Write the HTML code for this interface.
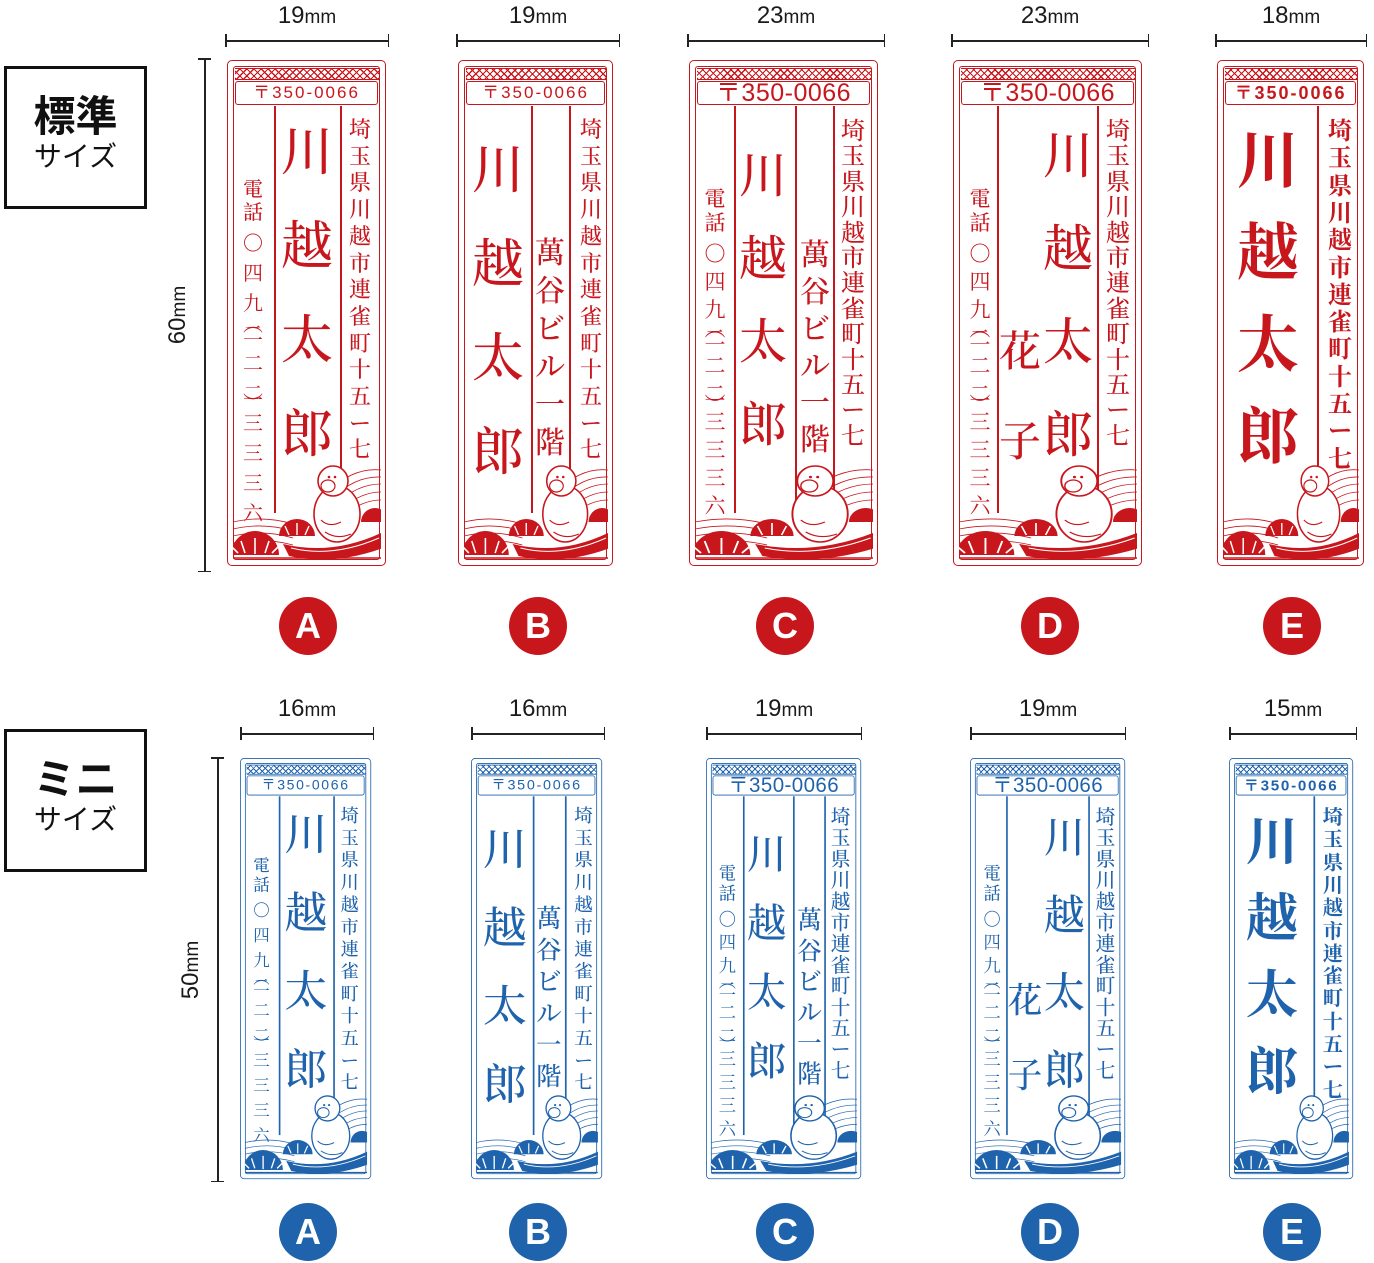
<!DOCTYPE html>
<html><head><meta charset="utf-8">
<style>
body{margin:0;background:#fff;width:1374px;height:1263px;position:relative;overflow:hidden;font-family:"Liberation Sans","Noto Sans CJK JP",sans-serif}
.a{position:absolute}
.stamp{position:absolute;transform-origin:0 0}
.ch{position:absolute;text-align:center;font-family:"Noto Serif CJK SC","Noto Sans CJK JP",serif;white-space:nowrap}
.dim{position:absolute;color:#1a1a1a;font-size:24px;text-align:center;width:120px}
.dim small{font-size:19px}
.circ{position:absolute;width:58px;height:58px;border-radius:50%;color:#fff;font-weight:bold;font-size:36px;line-height:58px;text-align:center;font-family:"Liberation Sans",sans-serif}
.lbl{position:absolute;border:3px solid #111;box-sizing:border-box;text-align:center;color:#111}
</style></head><body>
<div id="root"></div>
<script>
const R='#c8161d',B='#1f63ad';
const root=document.getElementById('root');
function el(parent,cls,css,html){const d=document.createElement('div');if(cls)d.className=cls;d.style.cssText=css;if(html!==undefined)d.innerHTML=html;parent.appendChild(d);return d;}
function col(p,c,xc,top,f,step,text,w){[...text].forEach((t,i)=>{el(p,'ch',`left:${xc-f/2}px;top:${top+i*step}px;width:${f}px;height:${f}px;font-size:${f}px;line-height:${f}px;color:${c};font-weight:${w||500};`,t);});}
function phone(p,c,xc,top,f,topNum,step){
 col(p,c,xc,top,f,f+3,'電話');
 const s='〇四九二二二三三三六';
 [...s].forEach((t,i)=>el(p,'ch',`left:${xc-f/2}px;top:${topNum+i*step}px;width:${f}px;height:${f}px;font-size:${f}px;line-height:${f}px;color:${c}`,t));
 el(p,'ch',`left:${xc-f/2}px;top:${topNum+3*step-f*0.45}px;width:${f}px;font-size:${f}px;line-height:${f}px;color:${c}`,'︵');
 el(p,'ch',`left:${xc-f/2}px;top:${topNum+5*step+f*0.5}px;width:${f}px;font-size:${f}px;line-height:${f}px;color:${c}`,'︶');
}
function deco(c){
 return `<svg width="100%" height="100%" viewBox="0 0 148 109" preserveAspectRatio="none" style="position:absolute;left:0;top:0">
 <g fill="none" stroke="${c}" stroke-width="0.8">
 <path d="M95,40 Q120,15 148,18"/><path d="M100,46 Q122,24 148,25"/><path d="M104,52 Q124,32 148,32"/><path d="M108,58 Q127,40 148,40"/><path d="M110,64 Q129,48 148,48"/>
 <path d="M0,70 Q30,63 60,72"/><path d="M0,77 Q30,70 60,79"/><path d="M0,84 Q30,77 60,86"/><path d="M0,91 Q30,85 60,93"/>
 </g>
 <path d="M-2,103 A24,24 0 0 1 46,103 Z" fill="${c}"/>
 <g stroke="#fff" stroke-width="1.6"><line x1="22" y1="102" x2="22" y2="86"/><line x1="12" y1="101" x2="8" y2="89"/><line x1="32" y1="101" x2="36" y2="89"/><line x1="5" y1="101" x2="-1" y2="95"/><line x1="39" y1="101" x2="45" y2="95"/></g>
 <path d="M46,84 A18,17 0 0 1 82,84 Z" fill="${c}"/>
 <g stroke="#fff" stroke-width="1.4"><line x1="64" y1="83" x2="64" y2="71"/><line x1="56" y1="83" x2="52" y2="74"/><line x1="72" y1="83" x2="76" y2="74"/></g>
 <path d="M50,92 Q100,104 150,80 L150,96 Q100,114 56,104 Z" fill="${c}"/>
 <path d="M58,96 Q100,106 146,86" stroke="#fff" stroke-width="1" fill="none"/>
 <path d="M128,70 A14,14 0 0 1 156,70 Z" fill="${c}"/>
 <ellipse cx="104" cy="62" rx="23" ry="28" fill="#fff" stroke="${c}" stroke-width="1.6"/>
 <circle cx="100" cy="29" r="15" fill="#fff" stroke="${c}" stroke-width="1.6"/>
 <ellipse cx="95" cy="34" rx="7" ry="6" fill="#fff" stroke="${c}" stroke-width="1.2"/>
 <circle cx="96" cy="25" r="1.3" fill="${c}"/><circle cx="102" cy="25" r="1.3" fill="${c}"/>
 <path d="M88,68 Q96,76 108,70 M92,80 Q104,88 118,82" stroke="${c}" stroke-width="1.2" fill="none"/>
 <line x1="0" y1="106" x2="148" y2="106" stroke="${c}" stroke-width="1.5"/>
 </svg>`;
}
function stamp(x,y,w,h,sx,sy,c,d){
 const s=el(root,'stamp',`left:${x}px;top:${y}px;width:${w}px;height:${h}px;transform:scale(${sx},${sy})`);
 el(s,'a',`left:0;top:0;width:${w-3}px;height:${h-3}px;border:1.5px solid ${c};border-radius:5px`);
 el(s,'a',`left:6px;top:6px;width:${w-15}px;height:${h-15}px;border:1.5px solid ${c};border-radius:3px`);
 el(s,'a',`left:8px;top:8px;width:${w-16}px;height:12px;background:repeating-linear-gradient(45deg,${c} 0 1.2px,transparent 1.2px 5px),repeating-linear-gradient(-45deg,${c} 0 1.2px,transparent 1.2px 5px);border-top:1.5px solid ${c};border-bottom:1.5px solid ${c};box-sizing:border-box`);
 el(s,'a',`left:8px;top:21px;width:${w-19}px;height:22px;border:1.5px solid ${c};border-radius:3px;color:${c};text-align:center;font-size:${d.zf}px;line-height:22px;letter-spacing:${d.zl}px;${d.zb?'font-weight:bold;':''}`,'〒350-0066');
 d.div.forEach(v=>el(s,'a',`left:${v}px;top:46px;width:1.5px;height:${h-100}px;background:${c}`));
 d.draw(s,c);
 const dd=el(s,'a',`left:6px;top:${h-115}px;width:${w-12}px;height:109px`);
 dd.innerHTML=deco(c);
}
const H=507;
const defs=[
 {x:227,w:160,zf:17,zl:2,div:[47,113],draw:(s,c)=>{phone(s,c,26,118,20,172,30);col(s,c,80,62,52,94,'川越太郎');col(s,c,133,58,22,26.7,'埼玉県川越市連雀町十五ー七');}},
 {x:458,w:156,zf:17,zl:2,div:[73,111],draw:(s,c)=>{col(s,c,40,80,52,94,'川越太郎');col(s,c,92,175,30,38,'萬谷ビル一階');col(s,c,133,58,22,26.7,'埼玉県川越市連雀町十五ー七');}},
 {x:689,w:190,zf:25,zl:0.5,div:[45,106,144],draw:(s,c)=>{phone(s,c,26,128,21,183,28);col(s,c,74,88,48,83,'川越太郎');col(s,c,126,177,30,37,'萬谷ビル一階');col(s,c,164,57,24,25.4,'埼玉県川越市連雀町十五ー七');}},
 {x:953,w:190,zf:25,zl:0.5,div:[44,144],draw:(s,c)=>{phone(s,c,27,128,21,183,28);col(s,c,115,67,50,93,'川越太郎');col(s,c,67,268,42,90,'花子');col(s,c,165,57,24,25.4,'埼玉県川越市連雀町十五ー七');}},
 {x:1217,w:148,zf:18,zl:2,zb:1,div:[100],draw:(s,c)=>{col(s,c,51,65,62,92,'川越太郎',700);col(s,c,123,57,24,27.3,'埼玉県川越市連雀町十五ー七',700);}}
];
const blueX=[[240,132],[471,132],[706,156],[970,156],[1229,125]];
defs.forEach((d,i)=>{
 stamp(d.x,60,d.w,H,1,1,R,d);
 const [bx,bw]=blueX[i];
 stamp(bx,758,d.w,H,bw/d.w,422/H,B,d);
});
function hdim(x1,x2,y,ty,txt){
 el(root,'a',`left:${x1}px;top:${y}px;width:${x2-x1}px;height:1.5px;background:#222`);
 el(root,'a',`left:${x1}px;top:${y-6}px;width:1.5px;height:13px;background:#222`);
 el(root,'a',`left:${x2-1.5}px;top:${y-6}px;width:1.5px;height:13px;background:#222`);
 el(root,'dim',`left:${(x1+x2)/2-60}px;top:${ty}px`,txt+'<small>mm</small>');
}
hdim(225,389,40,2,'19');hdim(456,620,40,2,'19');hdim(687,885,40,2,'23');hdim(951,1149,40,2,'23');hdim(1215,1367,40,2,'18');
hdim(240,374,733,695,'16');hdim(471,605,733,695,'16');hdim(706,862,733,695,'19');hdim(970,1126,733,695,'19');hdim(1229,1357,733,695,'15');
function vdim(x,y1,y2,txt){
 el(root,'a',`left:${x}px;top:${y1}px;width:1.5px;height:${y2-y1}px;background:#222`);
 el(root,'a',`left:${x-6}px;top:${y1}px;width:13px;height:1.5px;background:#222`);
 el(root,'a',`left:${x-6}px;top:${y2-1.5}px;width:13px;height:1.5px;background:#222`);
 el(root,'dim',`left:${x-26-60}px;top:${(y1+y2)/2-14}px;transform:rotate(-90deg)`,txt+'<small>mm</small>');
}
vdim(204,58,572,'60');vdim(217,757,1182,'50');
const L='ABCDE',cx=[308,538,785,1050,1292];
cx.forEach((x,i)=>{el(root,'circ',`left:${x-29}px;top:597px;background:${R}`,L[i]);el(root,'circ',`left:${x-29}px;top:1203px;background:${B}`,L[i]);});
el(root,'lbl','left:4px;top:66px;width:143px;height:143px',`<div style="font-size:42px;font-weight:bold;margin-top:22px;line-height:46px;font-family:'Noto Sans CJK JP',sans-serif">標準</div><div style="font-size:28px;line-height:36px;font-family:'Noto Sans CJK JP',sans-serif">サイズ</div>`);
el(root,'lbl','left:4px;top:729px;width:143px;height:143px',`<div style="font-size:42px;font-weight:bold;margin-top:22px;line-height:46px;font-family:'Noto Sans CJK JP',sans-serif">ミニ</div><div style="font-size:28px;line-height:36px;font-family:'Noto Sans CJK JP',sans-serif">サイズ</div>`);
</script>
</body></html>
